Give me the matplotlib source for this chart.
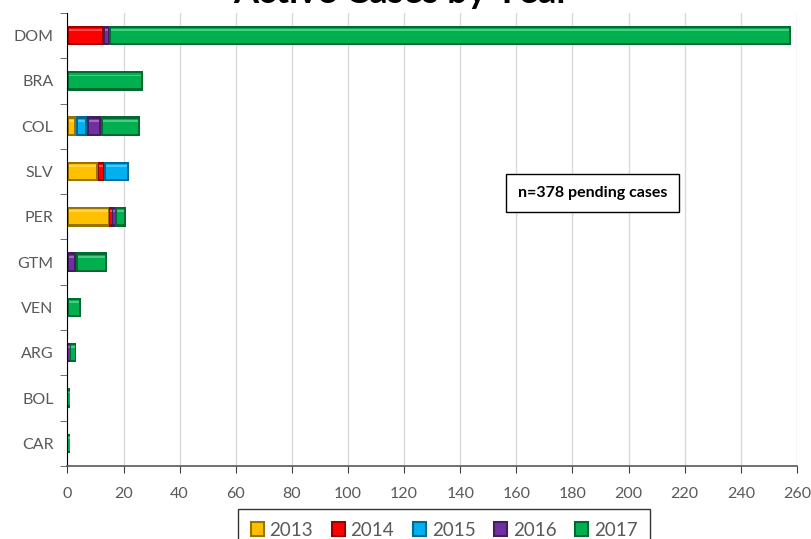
import numpy as np
import matplotlib
matplotlib.use("Agg")
import matplotlib.pyplot as plt
from matplotlib.patches import Patch
from matplotlib.colors import to_rgb

plt.rcParams['font.family'] = ['Lato', 'DejaVu Sans']

countries = ["DOM", "BRA", "COL", "SLV", "PER", "GTM", "VEN", "ARG", "BOL", "CAR"]
years = ["2013", "2014", "2015", "2016", "2017"]
cases_2013 = [0, 0, 3, 11, 15, 0, 0, 0, 0, 0]
cases_2014 = [13, 0, 0, 2, 1, 0, 0, 0, 0, 0]
cases_2015 = [0, 0, 4, 9, 0, 0, 0, 0, 0, 0]
cases_2016 = [2, 0, 5, 0, 1, 3, 0, 1, 0, 0]
cases_2017 = [243, 27, 14, 0, 4, 11, 5, 2, 1, 1]
colors = ["#FFC000", "#FF0000", "#00B0F0", "#7030A0", "#00B050"]


def shade(c, f):
    r = np.array(to_rgb(c))
    if f < 1:
        return tuple(r * f)
    return tuple(r + (1 - r) * (f - 1))


def bevel_bar(ax, y, left, width, h, color):
    # fake the bevelled office-style bars with a few layered rectangles
    dark = shade(color, 0.6)
    ax.barh(y, width, left=left, height=h, color=dark, linewidth=0)
    dx = min(0.7, width * 0.2)
    dy = 0.05
    ax.barh(y, width - 2 * dx, left=left + dx, height=h - 2 * dy,
            color=color, linewidth=0)
    top = y - h / 2 + dy
    ax.barh(top + 0.045, width - 2 * dx, left=left + dx, height=0.04,
            color=shade(color, 1.3), linewidth=0)


fig = plt.figure(figsize=(8.12, 5.39), dpi=100)
ax = fig.add_axes([0.083, 0.1355, 0.8985, 0.8405])

series = [cases_2013, cases_2014, cases_2015, cases_2016, cases_2017]
ypos = np.arange(len(countries))
bar_h = 0.43
left = np.zeros(len(countries))
for vals, col in zip(series, colors):
    for i, v in enumerate(vals):
        if v > 0:
            bevel_bar(ax, ypos[i], left[i], v, bar_h, col)
    left += np.array(vals)

ax.set_xlim(0, 260)
ax.set_ylim(len(countries) - 0.5, -0.5)
ax.set_xticks(np.arange(0, 261, 20))
ax.set_yticks(ypos)
ax.set_yticklabels(countries)
ax.set_yticks(np.arange(-0.5, len(countries), 1), minor=True)
ax.tick_params(axis='y', which='major', length=0, pad=10, labelsize=11.5, labelcolor="#595959")
ax.tick_params(axis='y', which='minor', length=5, direction='out', color="#595959")
ax.tick_params(axis='x', length=5, direction='out', pad=10, labelsize=11.5,
               labelcolor="#595959", color="#404040")
ax.grid(axis='x', color="#D9D9D9", linewidth=1)
ax.set_axisbelow(True)
for s in ["top", "right"]:
    ax.spines[s].set_visible(False)
ax.spines["left"].set_color("black")
ax.spines["bottom"].set_color("#595959")
ax.spines["bottom"].set_linewidth(1.2)

ax.text(0.72, 0.603, "n=378 pending cases", transform=ax.transAxes,
        ha='center', va='center', fontsize=11.5, fontweight='bold',
        bbox=dict(boxstyle='square,pad=0.75', facecolor='white', edgecolor='black', linewidth=1))

# title sits mostly above the canvas in the reference
fig.text(0.495, 0.995, "Active Cases by Year", ha='center', va='baseline',
         fontsize=26, fontweight='bold')

handles = [Patch(facecolor=c, edgecolor=shade(c, 0.6), linewidth=1.5) for c in colors]
leg = fig.legend(handles, years, loc='upper center', bbox_to_anchor=(0.547, 0.055),
                 ncol=5, frameon=True, fancybox=False, fontsize=13.5,
                 handlelength=0.7, handleheight=0.7, handletextpad=0.3,
                 columnspacing=1.0, borderpad=0.65, borderaxespad=0)
leg.get_frame().set_edgecolor('black')
leg.get_frame().set_linewidth(1)
for t in leg.get_texts():
    t.set_color("#595959")

fig.savefig("out.png", dpi=100)
